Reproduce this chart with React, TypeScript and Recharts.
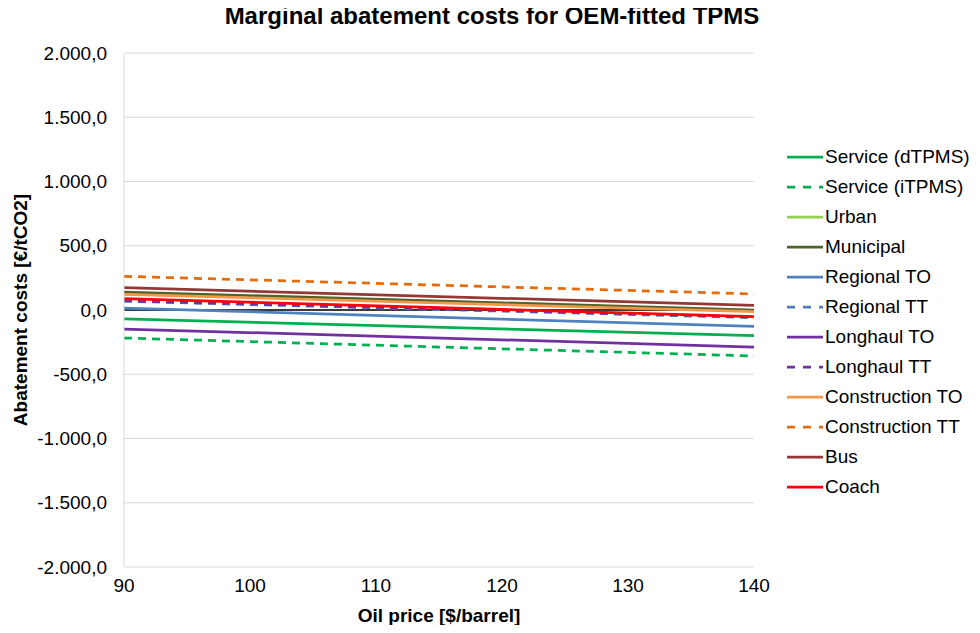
import { LineChart, Line, XAxis, YAxis, CartesianGrid, ReferenceLine } from "recharts";

// Oil price endpoints ($/barrel) - all series are straight lines
const oilPrice = [90, 140];

const serviceD = [-70, -200];
const serviceI = [-218, -358];
const urban = [130, -5];
const municipal = [140, 0];
const regionalTO = [15, -128];
const regionalTT = [68, -60];
const longhaulTO = [-148, -288];
const longhaulTT = [72, -55];
const constructionTO = [122, -13];
const constructionTT = [262, 125];
const bus = [174, 36];
const coach = [88, -52];

const xTicks = [90, 100, 110, 120, 130, 140];
const yTicks = [-2000, -1500, -1000, -500, 0, 500, 1000, 1500, 2000];

const series = [
  { key: "serviceD", name: "Service (dTPMS)", values: serviceD, color: "#00b050", dash: false },
  { key: "serviceI", name: "Service (iTPMS)", values: serviceI, color: "#00b050", dash: true },
  { key: "urban", name: "Urban", values: urban, color: "#92d050", dash: false },
  { key: "municipal", name: "Municipal", values: municipal, color: "#4f6228", dash: false },
  { key: "regionalTO", name: "Regional TO", values: regionalTO, color: "#4f81bd", dash: false },
  { key: "regionalTT", name: "Regional TT", values: regionalTT, color: "#4f81bd", dash: true },
  { key: "longhaulTO", name: "Longhaul TO", values: longhaulTO, color: "#7030a0", dash: false },
  { key: "longhaulTT", name: "Longhaul TT", values: longhaulTT, color: "#7030a0", dash: true },
  { key: "constructionTO", name: "Construction TO", values: constructionTO, color: "#f79646", dash: false },
  { key: "constructionTT", name: "Construction TT", values: constructionTT, color: "#e46c0a", dash: true },
  { key: "bus", name: "Bus", values: bus, color: "#953735", dash: false },
  { key: "coach", name: "Coach", values: coach, color: "#ff0000", dash: false },
];

const data = oilPrice.map((x, i) => {
  const row: Record<string, number> = { x };
  series.forEach((s) => (row[s.key] = s.values[i]));
  return row;
});

const FONT = "'Liberation Sans', Arial, sans-serif";

// 2000 -> "2.000,0"
function fmt(v: number) {
  const neg = v < 0;
  const int = Math.abs(Math.round(v)).toString().replace(/\B(?=(\d{3})+(?!\d))/g, ".");
  return (neg ? "-" : "") + int + ",0";
}

function LegendBox() {
  return (
    <div
      style={{
        position: "absolute",
        left: 786,
        top: 142,
        fontFamily: FONT,
        fontSize: 19,
        color: "#000",
      }}
    >
      {series.map((s) => (
        <div key={s.key} style={{ display: "flex", alignItems: "center", height: 30 }}>
          <svg width={38} height={10} style={{ marginRight: 1 }}>
            <line
              x1={1}
              y1={5}
              x2={37}
              y2={5}
              stroke={s.color}
              strokeWidth={2.75}
              strokeDasharray={s.dash ? "8 8" : undefined}
            />
          </svg>
          <span>{s.name}</span>
        </div>
      ))}
    </div>
  );
}

export default function App() {
  return (
    <div style={{ position: "relative", width: 980, height: 633, margin: -8, background: "#fff" }}>
      <div
        style={{
          position: "absolute",
          top: 2,
          left: 0,
          width: 984,
          textAlign: "center",
          fontFamily: FONT,
          fontWeight: "bold",
          fontSize: 24,
        }}
      >
        Marginal abatement costs for OEM-fitted TPMS
      </div>
      <LineChart width={980} height={633} data={data} margin={{ top: 53, right: 226, bottom: 0, left: 0 }}>
        <CartesianGrid horizontal vertical={false} stroke="#d9d9d9" />
        <XAxis
          dataKey="x"
          type="number"
          domain={[90, 140]}
          ticks={xTicks}
          tickLine={false}
          axisLine={false}
          tick={{ fontFamily: FONT, fontSize: 19, fill: "#000" }}
          tickMargin={6}
          height={66}
          label={{
            value: "Oil price [$/barrel]",
            position: "insideBottom",
            offset: 11,
            style: { fontFamily: FONT, fontSize: 19, fontWeight: "bold", fill: "#000" },
          }}
        />
        <YAxis
          type="number"
          domain={[-2000, 2000]}
          ticks={yTicks}
          tickFormatter={fmt}
          tickLine={false}
          axisLine={{ stroke: "#d9d9d9" }}
          tick={{ fontFamily: FONT, fontSize: 19, fill: "#000" }}
          tickMargin={11}
          width={124}
          label={{
            value: "Abatement costs [€/tCO2]",
            angle: -90,
            position: "insideLeft",
            offset: 20,
            style: { fontFamily: FONT, fontSize: 19, fontWeight: "bold", fill: "#000", textAnchor: "middle" },
          }}
        />
        <ReferenceLine y={0} stroke="#000" strokeWidth={1.5} />
        {series.map((s) => (
          <Line
            key={s.key}
            dataKey={s.key}
            name={s.name}
            type="linear"
            stroke={s.color}
            strokeWidth={2.75}
            strokeDasharray={s.dash ? "8 6" : undefined}
            dot={false}
            activeDot={false}
            isAnimationActive={false}
          />
        ))}
      </LineChart>
      <LegendBox />
    </div>
  );
}
